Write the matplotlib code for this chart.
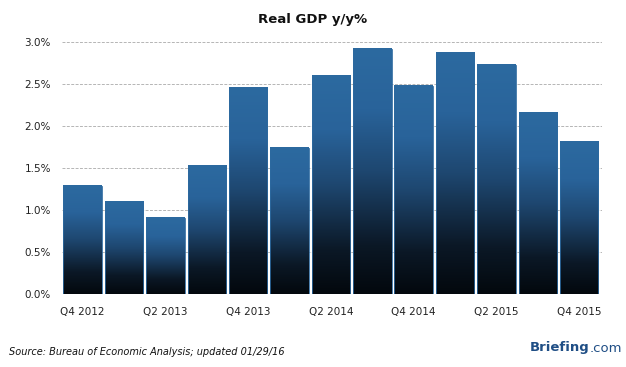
import numpy as np
import matplotlib
matplotlib.use("Agg")
import matplotlib.pyplot as plt
from matplotlib.colors import LinearSegmentedColormap

quarters = ["Q4 2012", "Q1 2013", "Q2 2013", "Q3 2013", "Q4 2013", "Q1 2014", "Q2 2014",
            "Q3 2014", "Q4 2014", "Q1 2015", "Q2 2015", "Q3 2015", "Q4 2015"]
gdp_yy = [1.29, 1.10, 0.91, 1.53, 2.46, 1.74, 2.60, 2.92, 2.48, 2.88, 2.73, 2.16, 1.81]
y_ticks = [0.0, 0.5, 1.0, 1.5, 2.0, 2.5, 3.0]
y_tick_labels = ["0.0%", "0.5%", "1.0%", "1.5%", "2.0%", "2.5%", "3.0%"]

fig = plt.figure(figsize=(6.26, 3.67), dpi=100)
ax = fig.add_axes([62/626, 1 - 294/367, (602-62)/626, (294-42)/367])

x = np.arange(len(quarters))
bars = ax.bar(x, gdp_yy, width=0.93, facecolor="none", edgecolor="#2d6aa0",
              linewidth=0.6, zorder=3)

cmap = LinearSegmentedColormap.from_list(
    "grad", [(0.0, "#03080d"), (0.2, "#0b1826"), (0.5, "#1e4770"), (0.75, "#29639a"), (1.0, "#2c6aa0")])
grad = np.linspace(0, 1, 256).reshape(-1, 1)
for b in bars:
    x0 = b.get_x(); w = b.get_width(); h = b.get_height()
    ax.imshow(grad, extent=[x0, x0 + w, 0, h], origin="lower", aspect="auto",
              cmap=cmap, zorder=2, interpolation="bilinear")

ax.set_xlim(-0.5, len(quarters) - 0.5 + 0.05)
ax.set_ylim(0, 3.0)
ax.set_yticks(y_ticks)
ax.set_yticklabels(y_tick_labels)
ax.set_xticks(x[::2])
ax.set_xticklabels(quarters[::2])
ax.tick_params(length=0, labelsize=7.5, colors="#222222")
ax.tick_params(axis="y", pad=8)
ax.tick_params(axis="x", pad=9)
ax.grid(axis="y", color="#b5b5b5", linestyle=(0, (3, 1.5)), linewidth=0.7, zorder=1)
for s in ax.spines.values():
    s.set_visible(False)

fig.text(0.5, 1 - 19/367, "Real GDP y/y%", ha="center", va="center",
         fontsize=9.5, fontweight="bold", color="#111111")
fig.text(9/626, 1 - 352/367, "Source: Bureau of Economic Analysis; updated 01/29/16",
         ha="left", va="center", fontsize=7, style="italic", color="#111111")
t1 = fig.text(530/626, 1 - 348/367, "Briefing", ha="left", va="center",
              fontsize=9.5, fontweight="bold", color="#1f4e85")
fig.canvas.draw()
bb = t1.get_window_extent()
fig.text(bb.x1 / fig.bbox.width, 1 - 348/367, ".com", ha="left", va="center",
         fontsize=9.5, color="#1f4e85")

fig.savefig("out.png", dpi=100)
